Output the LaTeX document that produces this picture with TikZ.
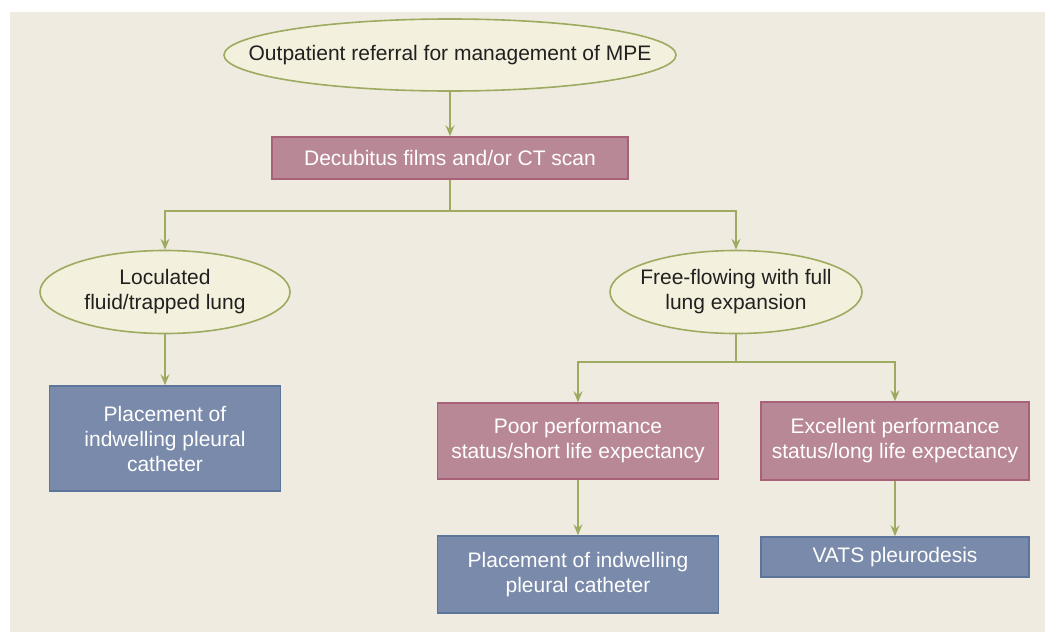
\documentclass[tikz,border=0pt]{standalone}
\usepackage{fontspec}
\setmainfont{Liberation Sans}
\usetikzlibrary{shapes.geometric,arrows.meta}
\definecolor{bg}{HTML}{EFEBE1}
\definecolor{ellfill}{HTML}{F3F1DD}
\definecolor{olive}{HTML}{9DAA5F}
\definecolor{pinkfill}{HTML}{B98897}
\definecolor{pinkline}{HTML}{A7627A}
\definecolor{bluefill}{HTML}{7A8AAA}
\definecolor{blueline}{HTML}{5D759B}
\definecolor{darktext}{HTML}{231F20}
\begin{document}
\begin{tikzpicture}[x=1pt,y=-1pt,
  every node/.style={font=\fontsize{21}{25}\selectfont, align=center, inner sep=0pt},
  oval/.style={ellipse, draw=olive, fill=ellfill, line width=1.6pt, text=darktext},
  ovaltext/.style={text=darktext},
  pinkbox/.style={rectangle, draw=pinkline, fill=pinkfill, line width=1.6pt, text=white},
  bluebox/.style={rectangle, draw=blueline, fill=bluefill, line width=1.6pt, text=white},
  conn/.style={draw=olive, line width=1.5pt, -{Stealth[length=11pt,width=9pt,inset=4pt]}},
  plain/.style={draw=olive, line width=1.5pt}
]
\useasboundingbox (0,0) rectangle (1045,632);
\fill[bg] (10,12) rectangle (1045,632);

\node[oval, minimum width=452, minimum height=72,
  label={[ovaltext]center:Outpatient referral for management of MPE}] (top) at (450,55) {};
\node[pinkbox, minimum width=356, minimum height=42] (dec) at (450,158) {Decubitus films and/or CT scan};
\node[oval, minimum width=250, minimum height=83,
  label={[ovaltext]center:Loculated\\fluid/trapped lung}] (le) at (165,292) {};
\node[oval, minimum width=252, minimum height=83,
  label={[ovaltext]center:Free-flowing with full\\lung expansion}] (re) at (736,292) {};
\node[bluebox, minimum width=231, minimum height=105] (lb) at (165,438.5) {Placement of\\indwelling pleural\\catheter};
\node[pinkbox, minimum width=281, minimum height=76] (poor) at (578,441) {Poor performance\\status/short life expectancy};
\node[pinkbox, minimum width=268, minimum height=78] (exc) at (895,441) {Excellent performance\\status/long life expectancy};
\node[bluebox, minimum width=281, minimum height=77] (pb) at (578,574.5) {Placement of indwelling\\pleural catheter};
\node[bluebox, minimum width=268, minimum height=40] (vats) at (895,557) {VATS pleurodesis};

\coordinate (j1) at (450,211);
\coordinate (j2) at (736,362);

\draw[conn] (top) -- (dec);
\draw[plain] (dec) -- (j1);
\draw[conn] (j1) -| (le.north);
\draw[conn] (j1) -| (re.north);
\draw[conn] (le) -- (lb);
\draw[plain] (re) -- (j2);
\draw[conn] (j2) -| (poor.north);
\draw[conn] (j2) -| (exc.north);
\draw[conn] (poor) -- (pb);
\draw[conn] (exc) -- (vats);
\end{tikzpicture}
\end{document}
